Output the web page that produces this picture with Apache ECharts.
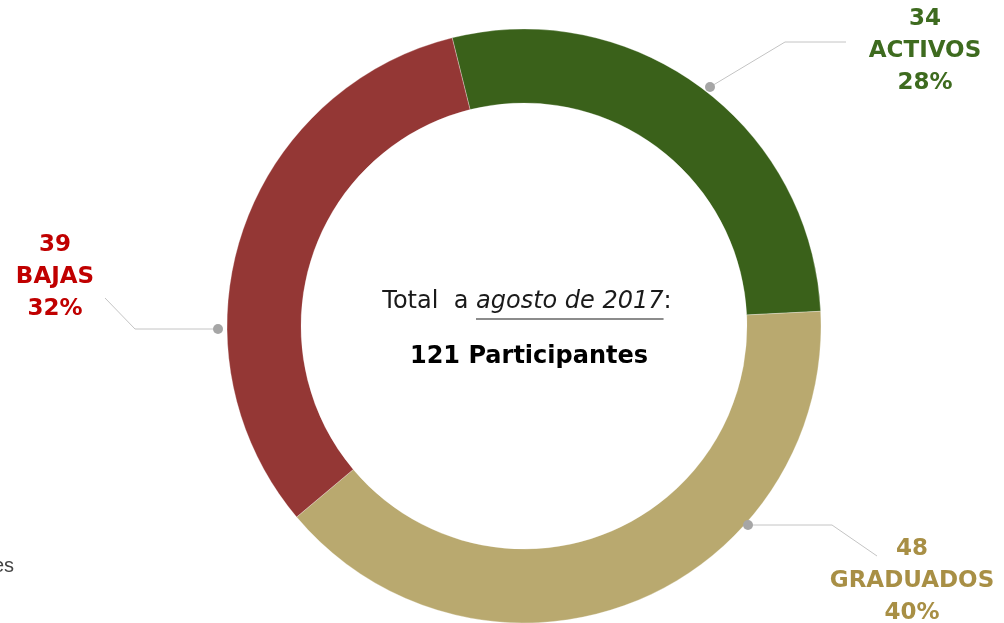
<!DOCTYPE html>
<html>
<head>
<meta charset="utf-8">
<title>Participantes</title>
<script src="https://cdn.jsdelivr.net/npm/echarts@6/dist/echarts.min.js"></script>
<style>
    html, body { margin: 0; padding: 0; background: #fff; }
    #chart { width: 1004px; height: 623px; }
</style>
</head>
<body>
<div id="chart"></div>
<script>
    // datos
    var categories = ['ACTIVOS', 'GRADUADOS', 'BAJAS'];
    var values = [34, 48, 39];
    var sliceColors = ['#3a611a', '#b9a96f', '#943735'];
    var labelColors = ['#3e6b1f', '#a88f45', '#c00000'];
    var totalValue = 121;

    var cx = 524, cy = 326;
    var font = '"DejaVu Sans", "Noto Sans", sans-serif';

    // posiciones de etiquetas y lineas guia (px)
    var labelPos = [[925, 51], [912, 581], [55, 277]];
    var linePts = [
        [[710, 87], [785, 42], [846, 42]],
        [[748, 525], [832, 525], [877, 556]],
        [[218, 329], [135, 329], [105, 298]]
    ];

    var chart = echarts.init(document.getElementById('chart'));

    function textWidth(str, f) {
        var ctx = document.createElement('canvas').getContext('2d');
        ctx.font = f;
        return ctx.measureText(str).width;
    }

    // texto central: "Total  a agosto de 2017:"
    var fs = 24;
    var normalFont = fs + 'px ' + font;
    var italicFont = 'italic ' + fs + 'px ' + font;
    var t1 = 'Total  a ', t2 = 'agosto de 2017', t3 = ':';
    var w1 = textWidth(t1, normalFont), w2 = textWidth(t2, italicFont), w3 = textWidth(t3, normalFont);
    var startX = 527 - (w1 + w2 + w3) / 2;
    var lineY = 305;

    var graphics = [
        {type: 'text', left: startX, top: lineY - 15, style: {text: t1, font: normalFont, fill: '#1a1a1a'}},
        {type: 'text', left: startX + w1, top: lineY - 15, style: {text: t2, font: italicFont, fill: '#1a1a1a'}},
        {type: 'text', left: startX + w1 + w2, top: lineY - 15, style: {text: t3, font: normalFont, fill: '#1a1a1a'}},
        {type: 'line', shape: {x1: startX + w1, y1: lineY + 14, x2: startX + w1 + w2, y2: lineY + 14},
            style: {stroke: '#1a1a1a', lineWidth: 1.2}},
        {type: 'text', x: 529, y: 357, style: {text: totalValue + ' Participantes', font: 'bold 24px ' + font,
                fill: '#000', textAlign: 'center', textVerticalAlign: 'middle'}},
        {type: 'text', x: 14, y: 566, style: {text: 'es', font: '20px "Liberation Sans", sans-serif',
                fill: '#444', textAlign: 'right', textVerticalAlign: 'middle'}}
    ];
    linePts.forEach(function (pts) {
        graphics.push({type: 'circle', shape: {cx: pts[0][0], cy: pts[0][1], r: 5}, style: {fill: '#a6a6a6'}, z: 10});
    });

    var option = {
        animation: false,
        graphic: graphics,
        series: [{
            type: 'pie',
            center: [cx, cy],
            radius: [223, 297],
            startAngle: 104,
            percentPrecision: 0,
            itemStyle: {borderColor: 'rgba(255,255,255,0.6)', borderWidth: 0.5},
            label: {
                show: true,
                formatter: '{c}\n{b}\n{d}%',
                fontFamily: font,
                fontWeight: 'bold',
                fontSize: 23,
                lineHeight: 32,
                align: 'center'
            },
            labelLine: {show: true, lineStyle: {color: '#c4c4c4', width: 1}},
            labelLayout: function (params) {
                var i = params.dataIndex;
                return {
                    x: labelPos[i][0],
                    y: labelPos[i][1],
                    align: 'center',
                    verticalAlign: 'middle',
                    labelLinePoints: linePts[i]
                };
            },
            data: categories.map(function (name, i) {
                return {
                    name: name,
                    value: values[i],
                    itemStyle: {color: sliceColors[i]},
                    label: {color: labelColors[i]}
                };
            })
        }]
    };
    chart.setOption(option);
</script>
</body>
</html>
